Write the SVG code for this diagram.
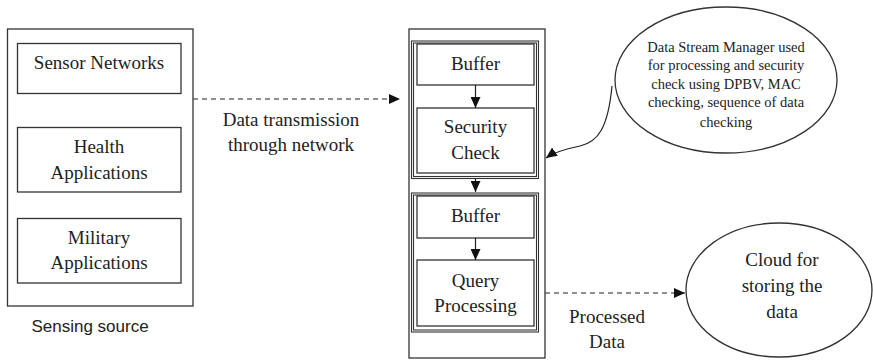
<svg xmlns="http://www.w3.org/2000/svg" width="873" height="361" viewBox="0 0 873 361">
  <style>
    .box { fill: #fff; stroke: #333; stroke-width: 1.3; }
    .frame { fill: none; stroke: #333; stroke-width: 1.1; }
    .lbl { font-family: "Liberation Serif", "Times New Roman", serif; font-size: 19px; fill: #222; text-anchor: middle; }
    .note { font-family: "Liberation Serif", "Times New Roman", serif; font-size: 14.5px; fill: #222; text-anchor: middle; }
    .sans { font-family: "Liberation Sans", Arial, sans-serif; font-size: 17px; fill: #222; text-anchor: middle; }
    .link { fill: none; stroke: #222; stroke-width: 1.2; }
    .dash { stroke-dasharray: 5 4; }
  </style>
  <defs>
    <marker id="arrow" markerWidth="12" markerHeight="10" refX="11" refY="5" orient="auto" markerUnits="userSpaceOnUse">
      <path d="M0,0 L11,5 L0,10 Z" fill="#111"/>
    </marker>
  </defs>
  <rect width="873" height="361" fill="#fff"/>

  <!-- Sensing source -->
  <g id="sensing-source">
    <rect class="box" x="7.5" y="29" width="185.5" height="277"/>
    <g id="sensor-networks">
      <rect class="box" x="17.5" y="43.5" width="163.5" height="50"/>
      <text class="lbl" x="99" y="69">Sensor Networks</text>
    </g>
    <g id="health-applications">
      <rect class="box" x="17.5" y="127.5" width="163.5" height="64.5"/>
      <text class="lbl" x="99" y="153">Health</text>
      <text class="lbl" x="99" y="179">Applications</text>
    </g>
    <g id="military-applications">
      <rect class="box" x="17.5" y="218.5" width="163.5" height="64.5"/>
      <text class="lbl" x="99" y="244">Military</text>
      <text class="lbl" x="99" y="269">Applications</text>
    </g>
    <text class="sans" x="90" y="332">Sensing source</text>
  </g>

  <!-- Data stream manager column -->
  <g id="stream-manager">
    <rect class="box" x="409" y="29" width="136" height="329"/>
    <g id="security-stage">
      <rect class="frame" x="411.5" y="41" width="127" height="137.5"/>
      <rect class="frame" x="413.5" y="43" width="123" height="133.5"/>
      <g id="buffer-1">
        <rect class="box" x="417" y="44" width="117" height="41"/>
        <text class="lbl" x="475.5" y="70">Buffer</text>
      </g>
      <g id="security-check">
        <rect class="box" x="417" y="108" width="117" height="65"/>
        <text class="lbl" x="475.5" y="133">Security</text>
        <text class="lbl" x="475.5" y="159">Check</text>
      </g>
    </g>
    <g id="query-stage">
      <rect class="frame" x="411.5" y="193" width="127" height="139"/>
      <rect class="frame" x="413.5" y="195" width="123" height="135"/>
      <g id="buffer-2">
        <rect class="box" x="417" y="196" width="117" height="42"/>
        <text class="lbl" x="475.5" y="222">Buffer</text>
      </g>
      <g id="query-processing">
        <rect class="box" x="417" y="260" width="117" height="66"/>
        <text class="lbl" x="475.5" y="287">Query</text>
        <text class="lbl" x="475.5" y="312">Processing</text>
      </g>
    </g>
  </g>

  <!-- Callout note -->
  <g id="dsm-note">
    <ellipse class="box" cx="726" cy="80" rx="111" ry="73"/>
    <text class="note" x="726" y="52">Data Stream Manager used</text>
    <text class="note" x="726" y="70">for processing and security</text>
    <text class="note" x="726" y="89">check using DPBV, MAC</text>
    <text class="note" x="726" y="107">checking, sequence of data</text>
    <text class="note" x="726" y="127">checking</text>
  </g>

  <!-- Cloud storage -->
  <g id="cloud">
    <ellipse class="box" cx="779" cy="290" rx="93" ry="67"/>
    <text class="lbl" x="782" y="266">Cloud for</text>
    <text class="lbl" x="782" y="292">storing the</text>
    <text class="lbl" x="782" y="318">data</text>
  </g>

  <!-- Connectors -->
  <g id="connectors">
    <line class="link dash" x1="193" y1="99" x2="400" y2="99" marker-end="url(#arrow)"/>
    <line class="link" x1="475.5" y1="85" x2="475.5" y2="108" marker-end="url(#arrow)"/>
    <line class="link" x1="475.5" y1="178.5" x2="475.5" y2="192" marker-end="url(#arrow)"/>
    <line class="link" x1="475.5" y1="238" x2="475.5" y2="260" marker-end="url(#arrow)"/>
    <path class="link" d="M612,86 C608,128 598,142 580,146 C565,149 553,153 546,158" marker-end="url(#arrow)"/>
    <line class="link dash" x1="545" y1="293" x2="685" y2="293" marker-end="url(#arrow)"/>
  </g>

  <!-- Connector labels -->
  <g id="labels">
    <text class="lbl" x="291" y="126">Data transmission</text>
    <text class="lbl" x="291" y="151">through network</text>
    <text class="lbl" x="607" y="323">Processed</text>
    <text class="lbl" x="607" y="348">Data</text>
  </g>
</svg>
